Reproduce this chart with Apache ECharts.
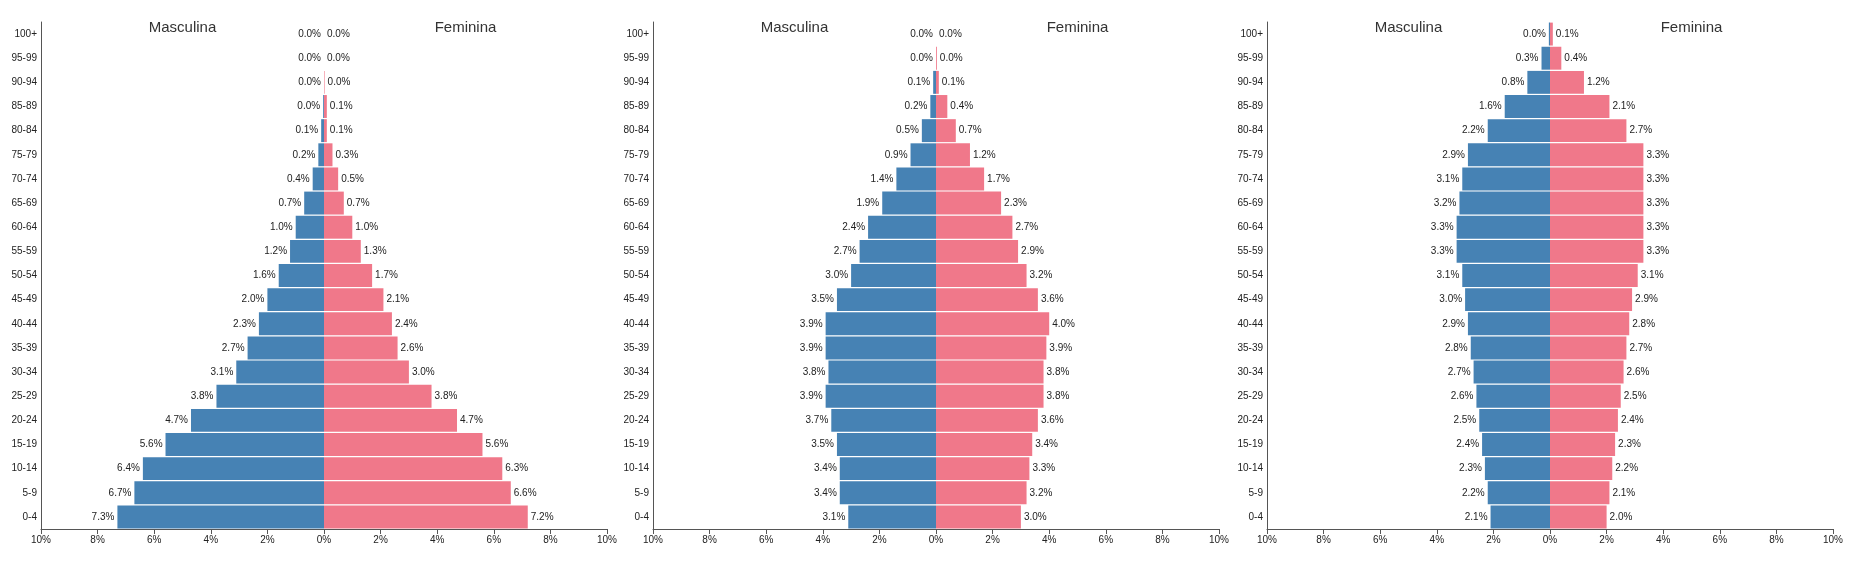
<!DOCTYPE html>
<html lang="pt">
<head>
    <meta charset="UTF-8">
    <title>Pirâmide etária</title>
    <style>
        html, body {margin: 0; padding: 0; background: #fff;}
        #main {width: 1861px; height: 571px;}
    </style>
</head>
<body>
<div id="main"></div>
<script src="https://cdn.jsdelivr.net/npm/echarts@6/dist/echarts.min.js"></script>
<script>
    // faixas etárias, de baixo para cima
    let ageGroups = ['0-4', '5-9', '10-14', '15-19', '20-24', '25-29', '30-34', '35-39', '40-44', '45-49',
                     '50-54', '55-59', '60-64', '65-69', '70-74', '75-79', '80-84', '85-89', '90-94', '95-99', '100+'];

    let male1   = [7.3, 6.7, 6.4, 5.6, 4.7, 3.8, 3.1, 2.7, 2.3, 2.0, 1.6, 1.2, 1.0, 0.7, 0.4, 0.2, 0.1, 0.03, 0, 0, 0];
    let female1 = [7.2, 6.6, 6.3, 5.6, 4.7, 3.8, 3.0, 2.6, 2.4, 2.1, 1.7, 1.3, 1.0, 0.7, 0.5, 0.3, 0.1, 0.1, 0.02, 0, 0];

    let male2   = [3.1, 3.4, 3.4, 3.5, 3.7, 3.9, 3.8, 3.9, 3.9, 3.5, 3.0, 2.7, 2.4, 1.9, 1.4, 0.9, 0.5, 0.2, 0.1, 0, 0];
    let female2 = [3.0, 3.2, 3.3, 3.4, 3.6, 3.8, 3.8, 3.9, 4.0, 3.6, 3.2, 2.9, 2.7, 2.3, 1.7, 1.2, 0.7, 0.4, 0.1, 0.03, 0];

    let male3   = [2.1, 2.2, 2.3, 2.4, 2.5, 2.6, 2.7, 2.8, 2.9, 3.0, 3.1, 3.3, 3.3, 3.2, 3.1, 2.9, 2.2, 1.6, 0.8, 0.3, 0.04];
    let female3 = [2.0, 2.1, 2.2, 2.3, 2.4, 2.5, 2.6, 2.7, 2.8, 2.9, 3.1, 3.3, 3.3, 3.3, 3.3, 3.3, 2.7, 2.1, 1.2, 0.4, 0.1];

    let pyramids   = [[male1, female1], [male2, female2], [male3, female3]];
    let sideTitles = ['Masculina', 'Feminina'];

    let gridLefts = [41, 653, 1267];
    let gridWidth = 566;
    let gridTop   = 22;
    let gridH     = 507;
    let font      = '"Liberation Sans", Arial, sans-serif';
    let colMale   = '#4682B4';
    let colFemale = '#F0788A';

    let grids = [], xAxes = [], yAxes = [], series = [], texts = [];

    function pct(v) {
        return Math.abs(v).toFixed(1) + '%';
    }

    pyramids.forEach(function (p, i) {
        grids.push({left: gridLefts[i], top: gridTop, width: gridWidth, height: gridH});
        xAxes.push({
            type     : 'value',
            gridIndex: i,
            min      : -10,
            max      : 10,
            interval : 2,
            splitLine: {show: false},
            axisLine : {show: true, lineStyle: {color: '#555', width: 1}},
            axisTick : {show: true, length: 5, lineStyle: {color: '#555'}},
            axisLabel: {
                color: '#222', fontSize: 10, fontFamily: font, margin: 6,
                formatter: function (v) { return Math.abs(v) + '%'; }
            }
        });
        yAxes.push({
            type     : 'category',
            gridIndex: i,
            data     : ageGroups,
            axisLine : {show: true, onZero: false, lineStyle: {color: '#555', width: 1}},
            axisTick : {show: false},
            axisLabel: {color: '#222', fontSize: 10, fontFamily: font, margin: 4}
        });
        series.push({
            type          : 'bar',
            name          : sideTitles[0],
            xAxisIndex    : i,
            yAxisIndex    : i,
            data          : p[0].map(function (v) { return -v; }),
            barGap        : '-100%',
            barCategoryGap: '5%',
            itemStyle     : {color: colMale},
            label         : {
                show: true, position: 'left', distance: 3,
                color: '#222', fontSize: 10, fontFamily: font,
                formatter: function (e) { return pct(e.value); }
            },
            silent        : true
        });
        series.push({
            type          : 'bar',
            name          : sideTitles[1],
            xAxisIndex    : i,
            yAxisIndex    : i,
            data          : p[1],
            barGap        : '-100%',
            barCategoryGap: '5%',
            itemStyle     : {color: colFemale},
            label         : {
                show: true, position: 'right', distance: 3,
                color: '#222', fontSize: 10, fontFamily: font,
                formatter: function (e) { return pct(e.value); }
            },
            silent        : true
        });
        // títulos dos lados, centrados em cada metade
        sideTitles.forEach(function (t, k) {
            texts.push({
                type : 'text',
                x    : gridLefts[i] + gridWidth * (k * 2 + 1) / 4,
                y    : 28,
                style: {
                    text: t, fill: '#333', fontSize: 15, fontFamily: font,
                    textAlign: 'center', textVerticalAlign: 'middle'
                }
            });
        });
    });

    let chart = echarts.init(document.getElementById('main'));
    chart.setOption({
        animation: false,
        grid     : grids,
        xAxis    : xAxes,
        yAxis    : yAxes,
        series   : series,
        graphic  : texts
    });
</script>
</body>
</html>
